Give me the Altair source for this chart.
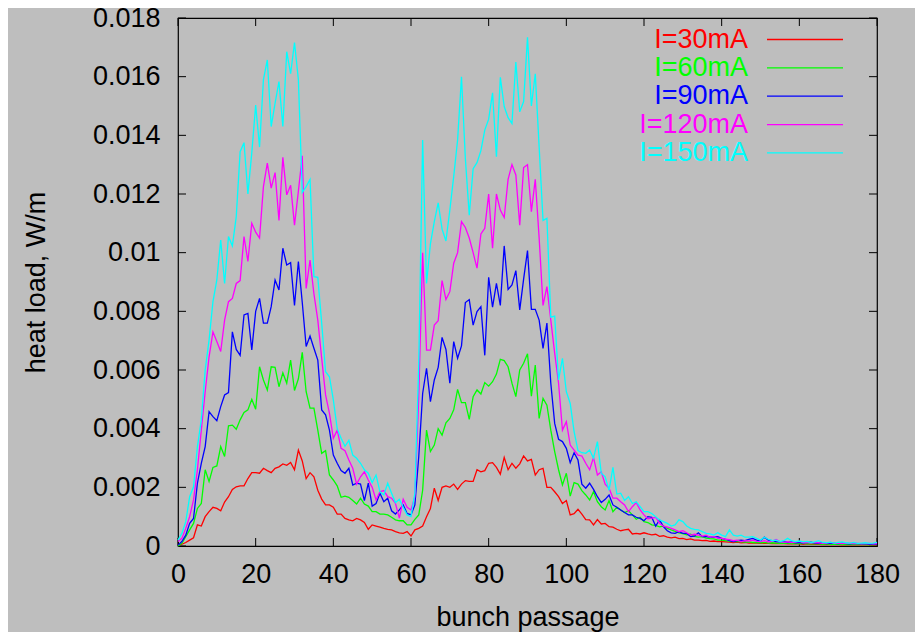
import altair as alt
import pandas as pd

# heat load values in units of 0.001 W/m, one value per bunch passage (0..180)
i30 = [0.03,0.06,0.12,0.2,0.28,0.72,0.68,1.0,1.17,1.32,
       1.28,1.2,1.5,1.68,1.93,2.02,2.05,2.05,2.3,2.5,
       2.5,2.48,2.65,2.57,2.5,2.65,2.7,2.8,2.75,2.85,
       2.6,3.27,2.9,2.3,2.5,2.36,1.9,1.6,1.4,1.4,
       1.32,1.09,1.09,0.94,0.89,0.86,0.94,0.89,0.8,0.57,
       0.72,0.68,0.64,0.6,0.57,0.55,0.49,0.45,0.43,0.49,
       0.34,0.55,0.6,0.68,1.0,1.28,1.97,1.55,2.0,2.05,
       2.0,2.11,1.93,2.11,2.23,2.2,2.2,2.6,2.53,2.57,
       2.82,2.84,2.68,2.45,3.02,2.6,2.82,2.65,2.8,3.07,
       2.9,2.95,2.42,2.6,2.65,2.0,2.0,1.85,1.68,1.45,
       1.55,1.06,1.1,1.25,1.09,0.9,0.89,0.72,0.9,0.75,
       0.77,0.66,0.64,0.57,0.52,0.55,0.57,0.41,0.43,0.41,
       0.45,0.41,0.38,0.4,0.33,0.35,0.3,0.28,0.3,0.25,
       0.26,0.22,0.24,0.2,0.2,0.18,0.19,0.16,0.17,0.15,
       0.15,0.14,0.13,0.12,0.13,0.11,0.12,0.1,0.11,0.1,
       0.09,0.1,0.09,0.08,0.09,0.08,0.08,0.07,0.08,0.07,
       0.07,0.06,0.07,0.06,0.06,0.06,0.05,0.06,0.05,0.05,
       0.05,0.04,0.05,0.04,0.05,0.04,0.04,0.04,0.05,0.04,
       0.04]
i60 = [0,0.09,0.32,0.55,0.77,1.28,1.45,2.6,2.2,2.68,
       2.73,3.39,3.05,4.1,4.12,3.98,4.3,4.55,4.64,5.0,
       4.66,6.11,5.66,5.32,6.11,6.09,5.43,5.9,5.55,6.34,
       5.3,5.7,6.6,5.26,4.7,4.7,3.95,3.16,3.25,2.42,
       2.25,2.05,1.66,1.7,1.66,1.55,1.43,1.63,1.43,1.36,
       1.17,1.17,1.09,1.09,1.06,0.98,0.89,0.86,0.86,0.72,
       0.72,0.91,1.06,1.9,3.95,3.22,3.44,4.0,3.78,4.2,
       4.35,4.64,5.34,4.89,4.89,4.32,5.09,5.32,5.18,5.57,
       5.45,5.6,5.86,6.36,6.32,6.11,5.55,5.09,6.0,6.23,
       6.55,5.11,6.17,4.35,5.03,4.8,3.95,3.22,2.6,2.08,
       2.48,1.7,2.16,2.11,1.89,1.74,1.57,1.85,1.51,1.34,
       1.23,1.55,1.17,1.32,1.23,1.14,1.2,1.06,0.91,0.98,
       0.83,0.8,0.72,0.7,0.65,0.68,0.6,0.55,0.5,0.45,
       0.42,0.38,0.4,0.33,0.3,0.32,0.27,0.25,0.24,0.2,
       0.2,0.18,0.17,0.15,0.16,0.14,0.13,0.14,0.12,0.12,
       0.11,0.12,0.1,0.11,0.1,0.09,0.1,0.09,0.08,0.09,
       0.08,0.08,0.07,0.08,0.07,0.07,0.06,0.07,0.06,0.06,
       0.06,0.05,0.06,0.05,0.05,0.06,0.05,0.05,0.04,0.05,
       0.05]
i90 = [0.03,0.15,0.37,0.77,0.94,2.14,2.82,3.39,4.58,4.41,
       4.27,4.75,5.15,5.23,7.3,6.7,6.5,7.88,7.93,6.68,
       8.0,8.44,7.6,7.6,8.16,9.07,8.73,10.15,9.58,9.66,
       8.2,9.7,8.3,6.8,7.16,6.74,6.34,4.64,4.47,3.95,
       3.1,2.82,2.57,2.48,2.65,2.08,2.14,2.11,1.55,2.14,
       1.36,1.45,1.8,1.51,1.63,1.2,1.09,1.23,1.4,1.11,
       1.06,1.4,3.05,5.2,6.06,4.92,5.66,6.09,7.11,6.7,
       5.55,6.97,6.4,6.82,8.3,8.4,7.53,7.99,8.16,6.5,
       9.16,8.14,8.95,8.2,10.23,8.75,8.9,9.39,8.05,9.1,
       10.07,8.07,8.07,7.7,6.74,7.6,5.55,4.18,3.64,3.56,
       3.33,2.84,3.18,2.93,2.11,1.97,2.14,1.93,1.68,1.48,
       1.59,1.74,1.4,1.32,1.23,1.14,1.06,1.06,0.98,0.94,
       0.86,1.0,0.98,0.68,0.89,0.66,0.52,0.45,0.43,0.49,
       0.43,0.43,0.32,0.34,0.45,0.32,0.32,0.3,0.3,0.32,
       0.26,0.23,0.18,0.15,0.18,0.2,0.18,0.23,0.26,0.2,
       0.18,0.3,0.2,0.18,0.15,0.14,0.16,0.12,0.14,0.11,
       0.12,0.1,0.12,0.13,0.1,0.09,0.11,0.08,0.1,0.09,
       0.08,0.1,0.08,0.07,0.09,0.08,0.07,0.08,0.06,0.07,
       0.06]
i120 = [0.15,0.26,0.6,1.0,1.57,2.6,3.95,5.26,6.45,7.3,
        6.97,6.63,7.7,8.33,8.44,8.95,9.05,10.55,9.7,11.0,
        10.7,10.5,12.25,13.05,12.2,12.73,11.1,13.25,11.97,12.3,
        10.94,12.1,13.3,8.78,9.75,8.6,7.7,6.4,5.15,4.52,
        3.67,3.95,3.33,3.25,2.93,2.65,2.11,2.36,2.53,2.25,
        2.0,1.57,1.85,1.89,1.68,1.63,1.45,0.95,1.59,1.32,
        1.23,1.68,5.1,10.0,6.68,6.68,7.53,7.68,9.05,8.4,
        8.67,9.64,10.0,11.06,10.86,10.5,10.0,9.47,10.64,10.83,
        12.0,10.15,12.0,11.45,11.2,12.5,13.0,12.65,10.94,12.9,
        13.0,11.4,12.5,10.5,8.2,8.84,7.7,6.57,5.55,3.95,
        4.24,3.44,3.27,3.1,3.07,2.82,2.6,3.02,2.42,2.53,
        2.11,1.97,1.63,1.63,1.51,1.4,1.17,1.34,1.48,1.23,
        1.06,0.93,0.95,0.98,0.77,0.68,0.64,0.6,0.55,0.49,
        0.52,0.45,0.37,0.4,0.37,0.34,0.37,0.3,0.32,0.26,
        0.27,0.23,0.22,0.18,0.2,0.15,0.18,0.17,0.2,0.16,
        0.15,0.18,0.14,0.16,0.22,0.15,0.13,0.14,0.12,0.13,
        0.16,0.11,0.12,0.1,0.12,0.11,0.09,0.1,0.12,0.09,
        0.1,0.08,0.1,0.09,0.08,0.09,0.07,0.08,0.09,0.07,
        0.08]
i150 = [0.2,0.43,0.83,1.68,2.02,3.39,4.3,6.0,7.02,8.33,
        9.07,10.43,8.95,10.55,10.23,11.23,13.44,13.75,12.0,13.4,
        15.03,13.6,15.9,16.57,14.3,15.1,15.83,14.3,16.85,16.1,
        17.16,15.9,12.05,12.25,12.5,9.18,9.16,7.6,5.94,5.77,
        4.98,4.0,3.67,3.4,3.6,3.1,2.99,2.82,2.6,2.48,
        2.16,2.42,1.85,1.74,2.14,1.8,1.48,1.59,1.32,1.06,
        1.0,1.8,6.23,13.84,8.95,10.3,11.06,11.7,10.8,10.4,
        11.45,12.6,13.84,16.0,13.2,11.28,12.86,13.07,13.48,14.18,
        14.55,15.45,13.27,15.98,14.98,14.6,14.4,16.5,14.8,15.15,
        17.34,15.0,16.1,13.6,11.1,11.17,7.8,7.84,5.66,6.4,
        5.26,4.86,3.9,3.25,3.18,3.16,3.27,2.99,3.56,2.48,
        2.36,1.9,2.68,1.77,1.8,1.55,1.68,1.45,1.51,1.34,
        1.17,1.17,1.11,1.0,0.89,0.83,0.77,0.68,0.72,0.89,
        0.83,0.68,0.6,0.57,0.55,0.49,0.43,0.41,0.37,0.45,
        0.37,0.32,0.55,0.37,0.34,0.37,0.3,0.3,0.32,0.26,
        0.2,0.3,0.23,0.18,0.2,0.15,0.18,0.26,0.18,0.15,
        0.17,0.14,0.16,0.12,0.14,0.18,0.12,0.11,0.13,0.1,
        0.12,0.14,0.11,0.1,0.12,0.09,0.1,0.11,0.09,0.1,
        0.12]

series_values = [i30, i60, i90, i120, i150]
series_labels = ["I=30mA", "I=60mA", "I=90mA", "I=120mA", "I=150mA"]
series_colors = ["#ff0000", "#00ff00", "#0000ff", "#ff00ff", "#00ffff"]

x_ticks = [0, 20, 40, 60, 80, 100, 120, 140, 160, 180]
y_ticks = [0, 0.002, 0.004, 0.006, 0.008, 0.01, 0.012, 0.014, 0.016, 0.018]

W, H = 699, 528
FONT = "Liberation Sans"
FS = 27
TICK = 8

X = alt.X("bunch:Q",
          scale=alt.Scale(domain=[0, 180], nice=False, zero=False),
          axis=alt.Axis(values=x_ticks, title="bunch passage", format="d",
                        labelFlush=False, labelOverlap=False,
                        labelPadding=15, titlePadding=17))
Y = alt.Y("heat:Q",
          scale=alt.Scale(domain=[0, 0.018], nice=False),
          axis=alt.Axis(values=y_ticks, title="heat load, W/m", format="~g",
                        labelFlush=False, labelOverlap=False,
                        labelPadding=18, titlePadding=42))

layers = []

# inward ticks on all four sides
xt_df = pd.DataFrame({"bunch": x_ticks})
yt_df = pd.DataFrame({"heat": y_ticks})
layers.append(alt.Chart(xt_df).mark_rule(strokeWidth=1).encode(
    x=X, y=alt.value(H), y2=alt.value(H - TICK), color=alt.value("black")))
layers.append(alt.Chart(xt_df).mark_rule(strokeWidth=1).encode(
    x=X, y=alt.value(0), y2=alt.value(TICK), color=alt.value("black")))
layers.append(alt.Chart(yt_df).mark_rule(strokeWidth=1).encode(
    y=Y, x=alt.value(0), x2=alt.value(TICK), color=alt.value("black")))
layers.append(alt.Chart(yt_df).mark_rule(strokeWidth=1).encode(
    y=Y, x=alt.value(W), x2=alt.value(W - TICK), color=alt.value("black")))

# data lines
for vals, col in zip(series_values, series_colors):
    df = pd.DataFrame({"bunch": list(range(len(vals))),
                       "heat": [v * 1e-3 for v in vals]})
    layers.append(alt.Chart(df).mark_line(strokeWidth=1.3).encode(
        x=X, y=Y, color=alt.value(col)))

# legend (gnuplot style: right-aligned label then line sample)
LEG_TEXT_X = 570
LEG_LINE_X1, LEG_LINE_X2 = 589, 665
LEG_Y0, LEG_DY = 21.5, 28.35
for i, (lab, col) in enumerate(zip(series_labels, series_colors)):
    yy = LEG_Y0 + i * LEG_DY
    leg_df = pd.DataFrame({"label": [lab]})
    layers.append(alt.Chart(leg_df).mark_text(
        font=FONT, fontSize=FS, align="right", baseline="middle"
    ).encode(text="label:N", x=alt.value(LEG_TEXT_X), y=alt.value(yy),
             color=alt.value(col)))
    layers.append(alt.Chart(leg_df).mark_rule(strokeWidth=1.3).encode(
        x=alt.value(LEG_LINE_X1), x2=alt.value(LEG_LINE_X2), y=alt.value(yy),
        color=alt.value(col)))

chart = alt.layer(*layers).properties(
    width=W, height=H,
    autosize=alt.AutoSizeParams(type="none"),
    padding={"left": 170, "top": 10, "right": 38, "bottom": 94},
    background="#bebebe",
).configure_view(
    stroke="black", strokeWidth=1.2, fill="#bebebe"
).configure_axis(
    domain=False, grid=False, ticks=False,
    labelFont=FONT, labelFontSize=FS, labelColor="black",
    titleFont=FONT, titleFontSize=FS, titleColor="black", titleFontWeight="normal",
)

chart.save("out.html", embed_options={"renderer": "svg", "actions": False})
